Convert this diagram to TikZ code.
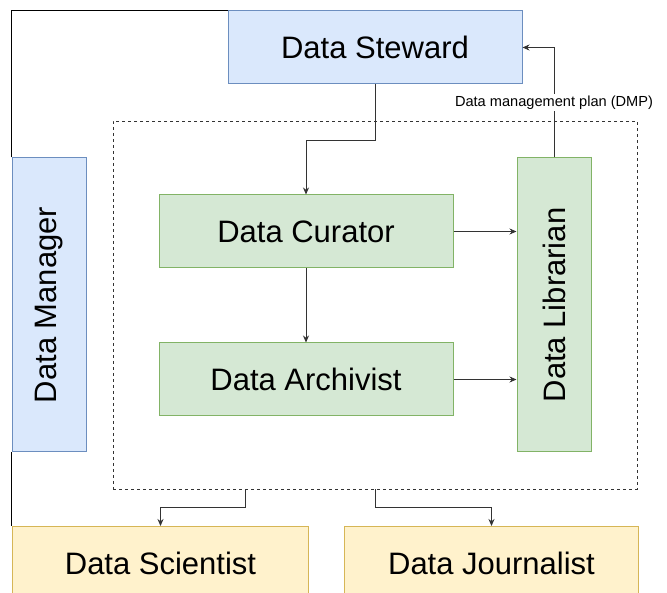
\documentclass[tikz,border=0pt]{standalone}
\usepackage{fontspec}
\setmainfont{Liberation Sans}
\usepackage{graphicx}
\usepackage{tikz}
\usetikzlibrary{positioning,calc,arrows.meta}
\definecolor{stewardfill}{HTML}{DAE8FC}
\definecolor{stewardline}{HTML}{6C8EBF}
\definecolor{curatorfill}{HTML}{D5E8D4}
\definecolor{curatorline}{HTML}{82B366}
\definecolor{userfill}{HTML}{FFF2CC}
\definecolor{userline}{HTML}{D6B656}
\definecolor{wire}{HTML}{333333}

\begin{document}
\begin{tikzpicture}[x=1pt, y=-1pt,
  role/.style={rectangle, draw=#1line, fill=#1fill, line width=1pt, inner sep=0pt, align=center, font=\fontsize{31}{37}\selectfont},
  wide/.style={minimum width=294pt, minimum height=73pt},
  tall/.style={minimum width=74pt, minimum height=294pt},
  flow/.style={draw=wire, line width=0.9pt, -{Stealth[length=7pt,width=6pt]}}]

\useasboundingbox (0,0) rectangle (667,593);

% ROLES

\node [role=steward, wide] (steward) at (375,47.5) {Data Steward};

\node [role=steward, tall] (manager) at (49,305) {\rotatebox{90}{Data Manager}};

\node [draw=wire, dash pattern=on 3pt off 3pt, line width=0.8pt, minimum width=524pt, minimum height=368pt, inner sep=0pt] (team) at (375,305) {};

\node [role=curator, wide] (curator) at (306,231.5) {Data Curator};

\node [role=curator, wide, below=74pt of curator] (archivist) {Data Archivist};

\node [role=curator, tall] (librarian) at (554,305) {\rotatebox{90}{Data Librarian}};

\node [role=user, minimum width=296pt, minimum height=73pt, anchor=north west] (scientist) at (12,526) {Data Scientist};

\node [role=user, wide, right=35pt of scientist] (journalist) {Data Journalist};


% LINKS

\draw [black, line width=0.9pt] (manager.north west) |- (steward.north west);
\draw [black, line width=0.9pt] (manager.south west) -- (manager.south west |- scientist.north);

\draw [flow] (steward.south) -- ++(0,56) -| (curator.north);
\draw [flow] (curator.south) -- (archivist.north);
\draw [flow] (curator.east) -- (curator.east -| librarian.west);
\draw [flow] (archivist.east) -- (archivist.east -| librarian.west);

\draw [flow] (librarian.north) |- (steward.east)
  node [pos=0.25, fill=white, inner sep=1.5pt, font=\fontsize{14.6}{17}\selectfont] (dmp) {Data management plan (DMP)};

\draw [flow] ([xshift=-130pt]team.south) -- ++(0,18) -| (scientist.north);
\draw [flow] (team.south) -- ++(0,18) -| (journalist.north);

\end{tikzpicture}
\end{document}
